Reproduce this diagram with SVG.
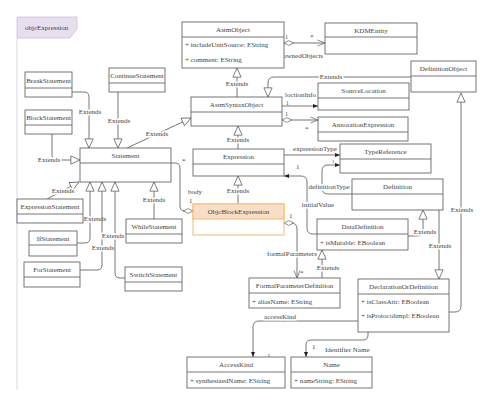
<svg xmlns="http://www.w3.org/2000/svg" width="500" height="409" viewBox="0 0 500 409">
<style>
text{font-family:"Liberation Serif","Times New Roman",serif;font-size:7px;fill:#444}
.c{text-anchor:middle}
.box{fill:#fff;stroke:#666;stroke-width:0.9}
.dv{stroke:#666;stroke-width:0.9}
.hl{fill:#f6dfc6;stroke:#efbd6c;stroke-width:1}
.hlb{fill:#fff;stroke:#efbd6c;stroke-width:1}
.e{fill:none;stroke:#666;stroke-width:0.9}
.lb{paint-order:stroke;stroke:#fff;stroke-width:3px;stroke-linejoin:round}
</style>
<defs>
<marker id="gen" viewBox="-1 -1 12 12" refX="10" refY="5" markerWidth="11" markerHeight="11" orient="auto" markerUnits="userSpaceOnUse"><path d="M0,0.5 L10,5 L0,9.5 Z" fill="#fff" stroke="#666" stroke-width="0.9"/></marker>
<marker id="open" viewBox="-1 -1 12 12" refX="10" refY="5" markerWidth="9" markerHeight="9" orient="auto" markerUnits="userSpaceOnUse"><path d="M0,1 L10,5 L0,9" fill="none" stroke="#666" stroke-width="1"/></marker>
<marker id="fill" viewBox="0 0 10 10" refX="10" refY="5" markerWidth="5" markerHeight="5" orient="auto" markerUnits="userSpaceOnUse"><path d="M0,1 L10,5 L0,9 Z" fill="#222"/></marker>
<marker id="diaS" viewBox="-1 -1 14 10" refX="0" refY="4" markerWidth="12" markerHeight="8" orient="auto" markerUnits="userSpaceOnUse"><path d="M0,4 L6,1 L12,4 L6,7 Z" fill="#fff" stroke="#666" stroke-width="0.9"/></marker>
<marker id="diaE" viewBox="-1 -1 14 10" refX="12" refY="4" markerWidth="12" markerHeight="8" orient="auto" markerUnits="userSpaceOnUse"><path d="M0,4 L6,1 L12,4 L6,7 Z" fill="#fff" stroke="#666" stroke-width="0.9"/></marker>
</defs>
<rect width="500" height="409" fill="#fff"/>
<g id="frame">
<line x1="17" y1="38" x2="17" y2="390" stroke="#ddd5e6" stroke-width="1"/>
<path d="M17,17 L77,17 L77,29 L70,38 L17,38 Z" fill="#e7deef" stroke="#cdbfdc" stroke-width="0.8"/>
<text x="25" y="30">objcExpression</text>
</g>
<g id="connectors">
<path class="e" d="M284,43 L325,43" marker-start="url(#diaS)" marker-end="url(#open)"/>
<text x="285" y="39" style="font-size:6px">1</text><text x="310" y="39">*</text><text x="283" y="58">ownedObjects</text>
<path class="e" d="M237,97 L237,68" marker-end="url(#gen)"/>
<text class="c lb" x="237" y="86">Extends</text>
<path class="e" d="M127,148 L191,118" marker-end="url(#gen)"/>
<text class="c lb" x="157" y="136">Extends</text>
<path class="e" d="M238,149 L238,126" marker-end="url(#gen)"/>
<text class="c lb" x="238" y="142">Extends</text>
<path class="e" d="M282,106 L318,106" marker-end="url(#fill)"/>
<text x="285" y="97">loctionInfo</text><text x="286" y="104.5" style="font-size:5.5px">1</text>
<path class="e" d="M282,120 L318,120" marker-start="url(#diaS)" marker-end="url(#open)"/>
<text x="285" y="116" style="font-size:6px">1</text><text x="305" y="131">*</text>
<path class="e" d="M411,77 L274,77 Q268,77 268,83 L268,97" marker-end="url(#gen)"/>
<text class="c lb" x="331" y="79">Extends</text>
<path class="e" d="M449,312 L455,312 Q461,312 461,306 L461,93" marker-end="url(#gen)"/>
<text class="c lb" x="462" y="212">Extends</text>
<path class="e" d="M284,155 L340,155" marker-end="url(#fill)"/>
<text class="c" x="315" y="151">expressionType</text>
<text x="332" y="163" style="font-size:5px">1</text>
<path class="e" d="M352,194 L328,194 Q322,194 322,188 L322,171 Q322,165 328,165 L340,165" marker-end="url(#fill)"/>
<text class="c lb" x="329" y="189">definitionType</text>
<path class="e" d="M317,234 L313,234 Q307,234 307,228 L307,182 Q307,176 301,176 L284,176" marker-end="url(#fill)"/>
<text class="c lb" x="318" y="207">initialValue</text><text x="296" y="169">1</text>
<path class="e" d="M408,236 L417,236 Q423,236 423,230 L423,210" marker-end="url(#gen)"/>
<text class="c lb" x="425" y="234">Extends</text>
<path class="e" d="M439,210 L439,279" marker-end="url(#gen)"/>
<text class="c lb" x="440" y="248">Extends</text>
<path class="e" d="M322,278 L322,250" marker-end="url(#gen)"/>
<text class="c lb" x="328" y="270">Extends</text>
<path class="e" d="M284,223 L291,223 Q297,223 297,229 L297,278" marker-start="url(#diaS)" marker-end="url(#open)"/>
<text x="289" y="218">1</text><text x="300" y="275">*</text>
<text class="c lb" x="292" y="256">formalParameters</text>
<path class="e" d="M171,163 L175,163 Q180,163 180,168 L180,206 Q180,211 185,211 L193,211" marker-end="url(#diaE)"/>
<text x="182" y="163">*</text><text x="188" y="194">body</text><text x="189" y="203">1</text>
<path class="e" d="M238,204 L238,176" marker-end="url(#gen)"/>
<text class="c lb" x="238" y="193">Extends</text>
<path class="e" d="M72,92 L84,92 Q89,92 89,97 L89,148" marker-end="url(#gen)"/>
<text class="c lb" x="90" y="114">Extends</text>
<path class="e" d="M118,92 L118,148" marker-end="url(#gen)"/>
<text class="c lb" x="119" y="123">Extends</text>
<path class="e" d="M52,134 L52,155 Q52,160 57,160 L80,160" marker-end="url(#gen)"/>
<text class="c lb" x="49" y="162">Extends</text>
<path class="e" d="M47,199 L79,182" marker-end="url(#gen)"/>
<text class="c lb" x="63" y="193">Extends</text>
<path class="e" d="M77,243 L85,243 Q90,243 90,238 L90,182" marker-end="url(#gen)"/>
<text class="c lb" x="95" y="221">Extends</text>
<path class="e" d="M80,270 L97,270 Q102,270 102,265 L102,182" marker-end="url(#gen)"/>
<text class="c lb" x="103" y="250">Extends</text>
<path class="e" d="M125,278 L120,278 Q115,278 115,273 L115,182" marker-end="url(#gen)"/>
<text class="c lb" x="113" y="238">Extends</text>
<path class="e" d="M154,219 L154,182" marker-end="url(#gen)"/>
<text class="c lb" x="154" y="202">Extends</text>
<path class="e" d="M358,321 L259,321 Q253,321 253,327 L253,357" marker-end="url(#fill)"/>
<text class="c lb" x="280" y="319">accessKind</text><text x="267" y="358">1</text>
<path class="e" d="M368,332 L368,335 Q368,340 363,340 L311,340 Q306,340 306,345 L306,357" marker-end="url(#fill)"/>
<text x="312" y="349">1</text><text x="325" y="352">Identifier Name</text>
</g>
<g id="AstmObject"><rect class="box" x="182" y="22" width="102" height="46"/><line class="dv" x1="182" y1="37" x2="284" y2="37"/><text class="c" x="233" y="32">AstmObject</text><text x="185" y="47">+ includeUnitSource: EString</text><text x="185" y="62">+ comment: EString</text></g>
<g id="KDMEntity"><rect class="box" x="325" y="23" width="92" height="31"/><line class="dv" x1="325" y1="37" x2="417" y2="37"/><text class="c" x="371" y="33">KDMEntity</text></g>
<g id="DefinitionObject"><rect class="box" x="411" y="61" width="65" height="31"/><line class="dv" x1="411" y1="76" x2="476" y2="76"/><text class="c" x="443.5" y="71">DefinitionObject</text></g>
<g id="AstmSyntaxObject"><rect class="box" x="191" y="97" width="91" height="29"/><line class="dv" x1="191" y1="112" x2="282" y2="112"/><text class="c" x="236.5" y="107">AstmSyntaxObject</text></g>
<g id="SourceLocation"><rect class="box" x="318" y="83" width="91" height="27"/><line class="dv" x1="318" y1="98" x2="409" y2="98"/><text class="c" x="363.5" y="93">SourceLocation</text></g>
<g id="AnnotationExpression"><rect class="box" x="318" y="117" width="90" height="24"/><line class="dv" x1="318" y1="132" x2="408" y2="132"/><text class="c" x="363" y="127">AnnotationExpression</text></g>
<g id="TypeReference"><rect class="box" x="340" y="144" width="91" height="29"/><line class="dv" x1="340" y1="159" x2="431" y2="159"/><text class="c" x="385.5" y="154">TypeReference</text></g>
<g id="Definition"><rect class="box" x="352" y="179" width="91" height="31"/><line class="dv" x1="352" y1="194" x2="443" y2="194"/><text class="c" x="397.5" y="189">Definition</text></g>
<g id="Expression"><rect class="box" x="193" y="149" width="91" height="27"/><line class="dv" x1="193" y1="164" x2="284" y2="164"/><text class="c" x="238.5" y="159">Expression</text></g>
<g id="ObjcBlockExpression"><rect class="hlb" x="193" y="204" width="91" height="31"/><rect class="hl" x="193" y="204" width="91" height="15"/><text class="c" x="238.5" y="214">ObjcBlockExpression</text></g>
<g id="DataDefinition"><rect class="box" x="317" y="219" width="91" height="31"/><line class="dv" x1="317" y1="234" x2="408" y2="234"/><text class="c" x="362.5" y="229">DataDefinition</text><text x="320" y="245">+ isMutable: EBoolean</text></g>
<g id="Statement"><rect class="box" x="80" y="148" width="91" height="34"/><line class="dv" x1="80" y1="163" x2="171" y2="163"/><text class="c" x="125.5" y="158">Statement</text></g>
<g id="BreakStatement"><rect class="box" x="25" y="72" width="47" height="25"/><line class="dv" x1="25" y1="88" x2="72" y2="88"/><text class="c" x="48.5" y="82.5">BreakStatement</text></g>
<g id="BlockStatement"><rect class="box" x="25" y="110" width="47" height="24"/><line class="dv" x1="25" y1="125" x2="72" y2="125"/><text class="c" x="48.5" y="120">BlockStatement</text></g>
<g id="ContinueStatement"><rect class="box" x="109" y="68" width="56" height="24"/><line class="dv" x1="109" y1="83" x2="165" y2="83"/><text class="c" x="137" y="78">ContinueStatement</text></g>
<g id="ExpressionStatement"><rect class="box" x="17" y="199" width="66" height="24"/><line class="dv" x1="17" y1="214" x2="83" y2="214"/><text class="c" x="50" y="209">ExpressionStatement</text></g>
<g id="IfStatement"><rect class="box" x="29" y="231" width="48" height="25"/><line class="dv" x1="29" y1="245" x2="77" y2="245"/><text class="c" x="53" y="241">IfStatement</text></g>
<g id="ForStatement"><rect class="box" x="24" y="262" width="56" height="25"/><line class="dv" x1="24" y1="277" x2="80" y2="277"/><text class="c" x="52" y="272">ForStatement</text></g>
<g id="WhileStatement"><rect class="box" x="126" y="219" width="56" height="24"/><line class="dv" x1="126" y1="234" x2="182" y2="234"/><text class="c" x="154" y="229">WhileStatement</text></g>
<g id="SwitchStatement"><rect class="box" x="125" y="267" width="57" height="24"/><line class="dv" x1="125" y1="282" x2="182" y2="282"/><text class="c" x="153.5" y="277">SwitchStatement</text></g>
<g id="FormalParameterDefinition"><rect class="box" x="249" y="278" width="91" height="30"/><line class="dv" x1="249" y1="293" x2="340" y2="293"/><text class="c" x="294.5" y="288">FormalParameterDefinition</text><text x="252" y="304">+ aliasName: EString</text></g>
<g id="DeclarationOrDefinition"><rect class="box" x="358" y="279" width="91" height="53"/><line class="dv" x1="358" y1="294" x2="449" y2="294"/><text class="c" x="403.5" y="289">DeclarationOrDefinition</text><text x="361" y="304">+ isClassAttr: EBoolean</text><text x="361" y="318">+ isProtocolimpl: EBoolean</text></g>
<g id="AccessKind"><rect class="box" x="187" y="357" width="98" height="31"/><line class="dv" x1="187" y1="372" x2="285" y2="372"/><text class="c" x="236" y="367">AccessKind</text><text x="190" y="383">+ synthesizedName: EString</text></g>
<g id="Name"><rect class="box" x="291" y="357" width="81" height="31"/><line class="dv" x1="291" y1="372" x2="372" y2="372"/><text class="c" x="331.5" y="367">Name</text><text x="294" y="383">+ nameString: EString</text></g>
</svg>
